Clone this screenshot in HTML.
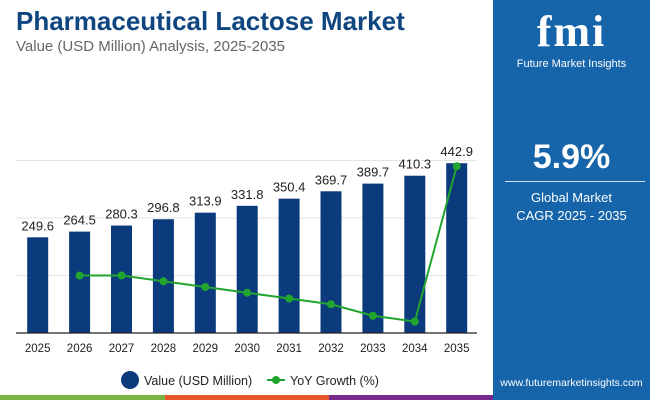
<!DOCTYPE html>
<html><head><meta charset="utf-8"><style>
body{margin:0;width:650px;height:400px;overflow:hidden;background:#fff;font-family:"Liberation Sans",Arial,sans-serif;position:relative}
.t{position:absolute;left:16px;top:6px;font-size:26px;font-weight:bold;color:#0f4680}
.s{position:absolute;left:16px;top:38px;font-size:15px;color:#666}
.panel{position:absolute;left:493px;top:0;width:157px;height:400px;background:#1664a9;color:#fff;text-align:center}
</style></head><body>
<div class="t">Pharmaceutical Lactose Market</div>
<div class="s">Value (USD Million) Analysis, 2025-2035</div>
<div class="panel">
 <div style="position:absolute;left:0;width:157px;top:6px;font-size:44px;font-weight:bold;font-family:'Liberation Serif',serif;letter-spacing:2px">fmi</div>
 <div style="position:absolute;left:0;width:157px;top:58px;font-size:11px">Future Market Insights</div>
 <div style="position:absolute;left:0;width:157px;top:138px;font-size:34px;font-weight:bold">5.9%</div>
 <div style="position:absolute;left:12px;width:140px;top:181px;height:1px;background:#cfe0f0"></div>
 <div style="position:absolute;left:0;width:157px;top:189px;font-size:13px;line-height:18px">Global Market<br>CAGR 2025 - 2035</div>
 <div style="position:absolute;left:0;width:157px;top:377px;font-size:10.5px">www.futuremarketinsights.com</div>
</div>
<div style="position:absolute;left:0;top:395px;width:165px;height:5px;background:#7ab342"></div>
<div style="position:absolute;left:165px;top:395px;width:164px;height:5px;background:#e8562a"></div>
<div style="position:absolute;left:329px;top:395px;width:164px;height:5px;background:#7a2a8c"></div>
<svg id="c" width="493" height="395" style="position:absolute;left:0;top:0"></svg>
<script>
const years=["2025","2026","2027","2028","2029","2030","2031","2032","2033","2034","2035"];
const values=[249.6,264.5,280.3,296.8,313.9,331.8,350.4,369.7,389.7,410.3,442.9];
const growth=[null,6.0,6.0,5.9,5.8,5.7,5.6,5.5,5.3,5.2,7.9];
const gridTicks=[150,300,450];
const svg=document.getElementById('c');const NS='http://www.w3.org/2000/svg';
const base=333,top0=160.5,x0=37.7,step=41.9;
const y=v=>base-v/450*(base-top0);
const y2=g=>base-(g-5)/3*(base-top0);
const x=i=>x0+i*step;
function el(t,a){const e=document.createElementNS(NS,t);for(const k in a)e.setAttribute(k,a[k]);svg.appendChild(e);return e;}
gridTicks.forEach(t=>{const l=el('line',{x1:16,x2:477,y1:y(t),y2:y(t),stroke:'#e3e3e3','stroke-width':1});

});
values.forEach((v,i)=>{const r=el('rect',{x:x(i)-10.5,y:y(v),width:21,height:base-y(v),fill:'#0b3b7c'});


const t=el('text',{x:x(i),y:y(v)-7,'text-anchor':'middle','font-size':13,fill:'#222'});t.textContent=v.toFixed(1);


const xl=el('text',{x:x(i),y:352,'text-anchor':'middle','font-size':11.5,fill:'#222'});xl.textContent=years[i];

});
const ax=el('line',{x1:16,x2:477,y1:base,y2:base,stroke:'#222','stroke-width':1.2});


let pts=[];growth.forEach((g,i)=>{if(g!=null)pts.push(x(i)+','+y2(g));});
const pl=el('polyline',{points:pts.join(' '),fill:'none',stroke:'#22a52e','stroke-width':2});


growth.forEach((g,i)=>{if(g==null)return;const c=el('circle',{cx:x(i),cy:y2(g),r:4,fill:'#22a52e'});

});
const lc=el('circle',{cx:130,cy:380,r:9,fill:'#0b3b7c'});


const lt=el('text',{x:144,y:385,'font-size':12.5,fill:'#222'});lt.textContent='Value (USD Million)';


const ll=el('line',{x1:267,x2:285,y1:380,y2:380,stroke:'#22a52e','stroke-width':2});


const ld=el('circle',{cx:276,cy:380,r:4,fill:'#22a52e'});


const lt2=el('text',{x:290,y:385,'font-size':12.5,fill:'#222'});lt2.textContent='YoY Growth (%)';


</script>
</body></html>
